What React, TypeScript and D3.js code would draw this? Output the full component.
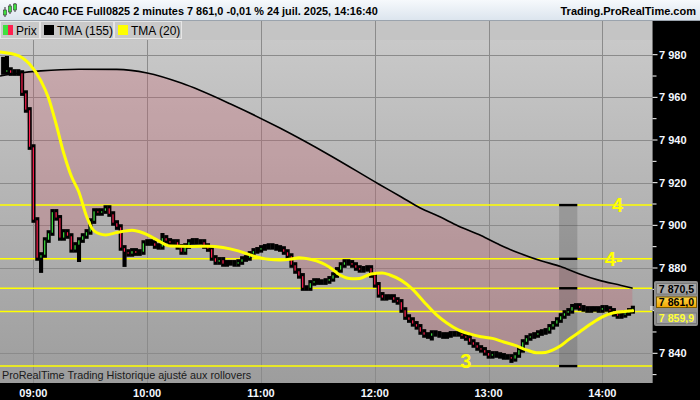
import React from 'react';
import * as d3 from 'd3';

// 2-minute closes, CAC40 future, 24 juil. 2025 from 08:44 to 14:16
const closes = [
  7971.9, 7972.8, 7971.4, 7971.9, 7971.4, 7962.0, 7954.1, 7936.7, 7902.5, 7884.7,
  7886.1, 7893.1, 7896.4, 7906.3, 7903.5, 7894.1, 7896.9, 7895.0, 7888.5, 7890.8,
  7893.1, 7895.0, 7896.9, 7902.0, 7906.7, 7905.8, 7906.7, 7908.1, 7905.3, 7901.1,
  7899.2, 7889.4, 7887.5, 7886.6, 7888.0, 7887.0, 7887.5, 7891.7, 7892.2, 7891.7,
  7890.3, 7889.9, 7894.1, 7892.7, 7891.7, 7892.2, 7889.9, 7887.5, 7890.3, 7892.2,
  7892.7, 7892.2, 7892.2, 7890.3, 7888.9, 7884.7, 7882.8, 7883.8, 7881.9, 7882.4,
  7882.4, 7881.9, 7882.8, 7884.2, 7884.7, 7886.6, 7888.0, 7888.5, 7889.4, 7889.9,
  7890.3, 7889.9, 7889.4, 7888.9, 7887.5, 7885.6, 7881.4, 7878.6, 7876.3, 7870.6,
  7870.6, 7873.0, 7873.9, 7873.4, 7873.4, 7873.9, 7874.9, 7876.7, 7879.1, 7881.4,
  7882.8, 7882.4, 7881.4, 7880.0, 7879.1, 7879.6, 7880.0, 7876.7, 7872.1, 7867.4,
  7866.0, 7866.4, 7866.4, 7865.0, 7864.1, 7860.3, 7857.0, 7855.6, 7853.8, 7852.4,
  7850.0, 7848.6, 7848.1, 7849.5, 7849.1, 7848.6, 7848.1, 7848.6, 7849.1, 7849.1,
  7849.1, 7848.1, 7847.2, 7845.3, 7843.9, 7842.5, 7841.6, 7840.2, 7838.8, 7839.7,
  7839.2, 7838.8, 7838.3, 7838.3, 7837.4, 7839.2, 7841.6, 7845.3, 7847.2, 7848.1,
  7848.6, 7849.5, 7850.0, 7850.5, 7852.4, 7853.8, 7855.6, 7857.5, 7858.9, 7859.9,
  7861.8, 7862.2, 7861.3, 7860.8, 7860.3, 7860.8, 7860.8, 7860.3, 7861.3, 7860.8,
  7859.9, 7858.5, 7857.5, 7858.0, 7858.9, 7859.9, 7861.0,
];
const firstOpen = 7972.5;

// wick extremes that stick out of the bodies: [bar, price]
const wickHighs: [number, number][] = [[0, 7979.0], [1, 7979.4], [42, 7896.4]];
const wickLows: [number, number][] = [[10, 7877.7], [20, 7882.8], [32, 7880.5], [113, 7846.0], [134, 7835.5]];

// TMA (155), read at some bars
const tma155Bars = [0, 4, 10, 20, 30, 38, 47, 60, 73, 86, 99, 105, 110, 115, 120, 126, 131, 136, 142, 147, 152, 157, 163, 166];
const tma155Vals = [7970.0, 7971.3, 7972.4, 7973.2, 7973.1, 7971.4, 7966.7, 7956.9, 7945.6, 7933.0, 7919.4, 7913.3, 7908.1, 7904.1, 7899.7, 7895.2, 7890.8, 7887.0, 7883.3, 7880.7, 7877.2, 7874.3, 7871.8, 7870.5];

// TMA (20), read at some bars
const tma20Bars = [0, 4, 7, 10, 12, 14, 16, 18, 20, 22, 24, 27, 30, 34, 37, 40, 44, 50, 54, 58, 62, 66, 70, 73, 76, 78, 81, 84, 86, 89, 92, 94, 97, 100, 102, 105, 108, 111, 114, 117, 120, 123, 126, 129, 132, 135, 138, 141, 143, 145, 147, 149, 152, 155, 158, 161, 164, 166];
const tma20Vals = [7981.3, 7979.6, 7975.6, 7967.7, 7959.7, 7947.5, 7933.9, 7923.1, 7915.6, 7904.4, 7897.4, 7895.5, 7896.6, 7897.7, 7896.4, 7893.8, 7890.3, 7890.1, 7890.2, 7889.6, 7888.0, 7885.6, 7884.1, 7883.8, 7884.2, 7884.8, 7884.1, 7882.4, 7880.5, 7876.5, 7874.9, 7875.1, 7877.2, 7877.7, 7876.7, 7874.2, 7870.0, 7864.1, 7858.5, 7854.2, 7851.0, 7849.1, 7847.8, 7847.0, 7845.3, 7843.7, 7841.6, 7840.2, 7840.4, 7841.6, 7843.5, 7846.3, 7850.0, 7853.8, 7857.1, 7859.0, 7859.6, 7859.9];

// drawn horizontal lines and their marks
const levels = [7909.5, 7884.3, 7870.5, 7859.6, 7834.0];
const capLevels = [7909.5, 7884.3, 7870.5, 7834.0];
const boxBars = [147, 151];
const marks = [
  { text: '4', bar: 162, price: 7909.5 },
  { text: '4-', bar: 161, price: 7884.3 },
  { text: '3', bar: 122, price: 7836.5 },
];

const priceTicks = [7840, 7860, 7880, 7900, 7920, 7940, 7960, 7980];
const labelTicks = [7840, 7880, 7900, 7920, 7940, 7960, 7980]; // 7 860 sits under the value boxes
const minorTicks = [7830, 7850, 7870, 7890, 7910, 7930, 7950, 7970];
const lastTma155 = 7870.5;
const lastPrice = 7861.0;
const lastTma20 = 7859.9;

const title = 'CAC40 FCE Full0825 2 minutes 7 861,0 -0,01 % 24 juil. 2025, 14:16:40';
const site = 'Trading.ProRealTime.com';
const legend = ['Prix', 'TMA (155)', 'TMA (20)'];
const footer = 'ProRealTime Trading  Historique ajusté aux rollovers';

const W = 700;
const H = 400;
const plotRight = 652.5;
const plotTop = 40;
const plotBottom = 383;
const green = '#3fe03f';
const red = '#ff1f4f';
const font = "'Liberation Sans', Arial, sans-serif";

const fr = d3.formatLocale({ decimal: ',', thousands: '\u00a0', grouping: [3], currency: ['', '€'] });
const fmt0 = fr.format(',.0f');
const fmt1 = fr.format(',.1f');

export default function App() {
  const barTimes = closes.map((_, i) => new Date(2025, 6, 24, 8, 44 + 2 * i));
  const x = d3.scaleTime().domain([barTimes[0], barTimes[barTimes.length - 1]]).range([3, 632.7]);
  const y = d3.scaleLinear().domain([7840, 7980]).range([353.3, 54.7]);
  const bx = (i: number) => x(barTimes[i]);

  const hours = x.ticks(d3.timeHour.every(1)!).filter((t) => x(t) < plotRight);
  const hourFmt = d3.timeFormat('%H:%M');

  const tma155 = tma155Bars.map((b, k) => [b === 0 ? 0 : bx(b), y(tma155Vals[k])] as [number, number]);
  const tma20 = tma20Bars.map((b, k) => [b === 0 ? 0 : bx(b), y(tma20Vals[k])] as [number, number]);
  const closePts = closes.map((c, i) => [bx(i), y(c)] as [number, number]);

  const line = d3.line<[number, number]>().curve(d3.curveMonotoneX);
  const belowTma = d3.area<[number, number]>().x((d) => d[0]).y0(plotBottom).y1((d) => d[1]).curve(d3.curveMonotoneX)(tma155)!;
  const aboveClose = d3.area<[number, number]>().x((d) => d[0]).y0(plotTop).y1((d) => d[1])(closePts)!;

  const hiMap = new Map(wickHighs);
  const loMap = new Map(wickLows);
  const pitch = bx(1) - bx(0);

  const candles = closes.map((c, i) => {
    const o = i === 0 ? firstOpen : closes[i - 1];
    const top = y(Math.max(o, c));
    const bot = y(Math.min(o, c));
    const hp = hiMap.get(i);
    const lp = loMap.get(i);
    const hi = Math.min(hp === undefined ? top : y(hp), top - 2.8);
    const lo = Math.max(lp === undefined ? bot : y(lp), bot + 2.8);
    return { cx: bx(i), top, bot, hi, lo, up: c >= o };
  });

  return (
    <svg width={W} height={H} style={{ position: 'absolute', left: 0, top: 0 }} fontFamily={font}>
      <defs>
        <linearGradient id="bg" x1="0" y1="0" x2="0" y2="1">
          <stop offset="0" stopColor="#cbcbcb" />
          <stop offset="1" stopColor="#9d9d9d" />
        </linearGradient>
        <linearGradient id="head" x1="0" y1="0" x2="0" y2="1">
          <stop offset="0" stopColor="#f6f9fc" />
          <stop offset="1" stopColor="#dce5ee" />
        </linearGradient>
        <linearGradient id="orange" x1="0" y1="0" x2="0" y2="1">
          <stop offset="0" stopColor="#ffd84a" />
          <stop offset="1" stopColor="#f2a500" />
        </linearGradient>
        <clipPath id="belowTma"><path d={belowTma} /></clipPath>
        <clipPath id="aboveClose"><path d={aboveClose} /></clipPath>
        <clipPath id="plot"><rect x={0} y={plotTop} width={plotRight} height={plotBottom - plotTop} /></clipPath>
      </defs>

      {/* plot background */}
      <rect x={0} y={20} width={plotRight} height={plotBottom - 20} fill="url(#bg)" />

      {/* legend bar */}
      <rect x={0} y={20} width={plotRight} height={20} fill="#c4c4c4" />
      {[[0, 40], [40, 114], [114, 182]].map(([a, b], k) => (
        <rect key={k} x={a + 0.5} y={21.5} width={b - a - 1} height={17} fill="#c9c9c9" stroke="#e6e6e6" strokeWidth={1} />
      ))}
      <rect x={3} y={25} width={5} height={10} fill={green} />
      <rect x={8} y={25} width={5} height={10} fill={red} />
      <rect x={44} y={25} width={10} height={10} fill="#000" />
      <rect x={118} y={25} width={10} height={10} fill="#ffff00" />
      <text x={16} y={35} fontSize={12} fill="#000">{legend[0]}</text>
      <text x={57} y={35} fontSize={12} fill="#000">{legend[1]}</text>
      <text x={131} y={35} fontSize={12} fill="#000">{legend[2]}</text>

      {/* grid */}
      {priceTicks.map((p) => (
        <line key={p} x1={0} x2={plotRight} y1={Math.round(y(p)) + 0.5} y2={Math.round(y(p)) + 0.5} stroke="#8b8b8b" strokeWidth={1} />
      ))}
      {hours.map((t) => (
        <line key={+t} x1={Math.round(x(t)) + 0.5} x2={Math.round(x(t)) + 0.5} y1={x(t) > 200 ? 20 : plotTop} y2={plotBottom} stroke="#8b8b8b" strokeWidth={1} />
      ))}

      <g clipPath="url(#plot)">
        {/* fill between TMA (155) and price */}
        <g clipPath="url(#belowTma)">
          <rect x={0} y={plotTop} width={bx(closes.length - 1)} height={plotBottom - plotTop} fill="rgba(205,85,100,0.26)" clipPath="url(#aboveClose)" />
        </g>

        {/* drawn box */}
        <rect x={bx(boxBars[0]) - 1.5} y={y(levels[0])} width={bx(boxBars[1]) - bx(boxBars[0]) + 3} height={y(levels[4]) - y(levels[0])} fill="rgba(60,60,60,0.22)" />

        {/* horizontal lines */}
        {levels.map((p) => (
          <line key={p} x1={0} x2={plotRight} y1={y(p)} y2={y(p)} stroke="#ffff00" strokeWidth={1.5} />
        ))}
        {capLevels.map((p) => (
          <rect key={p} x={bx(boxBars[0]) - 1.5} y={y(p) - 1.2} width={bx(boxBars[1]) - bx(boxBars[0]) + 3} height={2.4} fill="#000" />
        ))}

        {/* TMA (155) */}
        <path d={line(tma155)!} fill="none" stroke="#000" strokeWidth={1.6} />

        {/* candles: black outline block with coloured body line */}
        {candles.map((d, i) => (
          <rect key={i} x={d.cx - pitch / 2} y={d.hi} width={pitch + 0.3} height={d.lo - d.hi} fill="#000" />
        ))}
        {candles.map((d, i) =>
          d.bot - d.top < 1.5 ? null : (
            <rect key={i} x={d.cx - 0.6} y={d.top + 0.3} width={1.2} height={d.bot - d.top - 0.6} fill={d.up ? green : red} />
          ),
        )}

        {/* TMA (20) */}
        <path d={line(tma20)!} fill="none" stroke="#ffff00" strokeWidth={3} strokeLinecap="round" />

        {marks.map((m) => (
          <text key={m.text} x={bx(m.bar)} y={y(m.price) + 7} fontSize={20} fontWeight="bold" fill="#ffff00" textAnchor="middle">{m.text}</text>
        ))}
      </g>

      <text x={2} y={379} fontSize={10.8} fill="#1a1a1a">{footer}</text>

      {/* header */}
      <rect x={0} y={0} width={W} height={20} fill="url(#head)" />
      <line x1={0} x2={W} y1={20.5} y2={20.5} stroke="#9aa3ad" />
      <g>
        <line x1={5} x2={5} y1={7} y2={17} stroke="#333" />
        <rect x={3.5} y={10} width={3} height={5} fill={green} stroke="#333" strokeWidth={0.6} />
        <line x1={10} x2={10} y1={4} y2={14} stroke="#333" />
        <rect x={8.5} y={6} width={3} height={6} fill={green} stroke="#333" strokeWidth={0.6} />
        <line x1={15} x2={15} y1={3} y2={12} stroke="#333" />
        <rect x={13.5} y={4} width={3} height={6} fill={green} stroke="#333" strokeWidth={0.6} />
      </g>
      <text x={23} y={15} fontSize={10.9} fontWeight="bold" fill="#000">{title}</text>
      <text x={696} y={15} fontSize={11} fontWeight="bold" fill="#000" textAnchor="end">{site}</text>

      {/* right axis */}
      <rect x={plotRight} y={21} width={W - plotRight} height={H - 21} fill="#000" />
      {priceTicks.map((p) => (
        <line key={p} x1={plotRight} x2={plotRight + 5} y1={y(p)} y2={y(p)} stroke="#fff" />
      ))}
      {labelTicks.map((p) => (
        <text key={p} x={659} y={y(p) + 4} fontSize={11} fontWeight="bold" fill="#f4f8ff">{fmt0(p)}</text>
      ))}
      {minorTicks.map((p) => (
        <line key={p} x1={plotRight} x2={plotRight + 4} y1={y(p)} y2={y(p)} stroke="#fff" />
      ))}
      <line x1={650} x2={656} y1={y(lastPrice) - 1.5} y2={y(lastPrice) - 1.5} stroke="#fff" />
      <line x1={650} x2={656} y1={y(lastPrice) + 0.5} y2={y(lastPrice) + 0.5} stroke="#fff" />

      {/* last value boxes */}
      <rect x={654} y={281} width={44} height={45} rx={2} fill="#8f8f8f" />
      <rect x={656.5} y={283.5} width={40} height={10.5} fill="#a8a8a8" stroke="#7a7a7a" />
      <text x={676.5} y={292.6} fontSize={10.6} fontWeight="bold" fill="#000" textAnchor="middle">{fmt1(lastTma155)}</text>
      <rect x={656.5} y={297} width={40} height={10.5} fill="url(#orange)" stroke="#7a5a00" />
      <text x={676.5} y={306.1} fontSize={10.6} fontWeight="bold" fill="#000" textAnchor="middle">{fmt1(lastPrice)}</text>
      <rect x={656.5} y={313} width={40} height={10.5} fill="#a0a0a0" stroke="#7a7a7a" />
      <text x={676.5} y={322.1} fontSize={10.6} fontWeight="bold" fill="#ffff33" textAnchor="middle">{fmt1(lastTma20)}</text>

      {/* time axis */}
      <rect x={0} y={plotBottom} width={W} height={H - plotBottom} fill="#000" />
      {hours.map((t) => (
        <text key={+t} x={x(t)} y={397} fontSize={11} fontWeight="bold" fill="#f4f8ff" textAnchor="middle">{hourFmt(t)}</text>
      ))}
    </svg>
  );
}
